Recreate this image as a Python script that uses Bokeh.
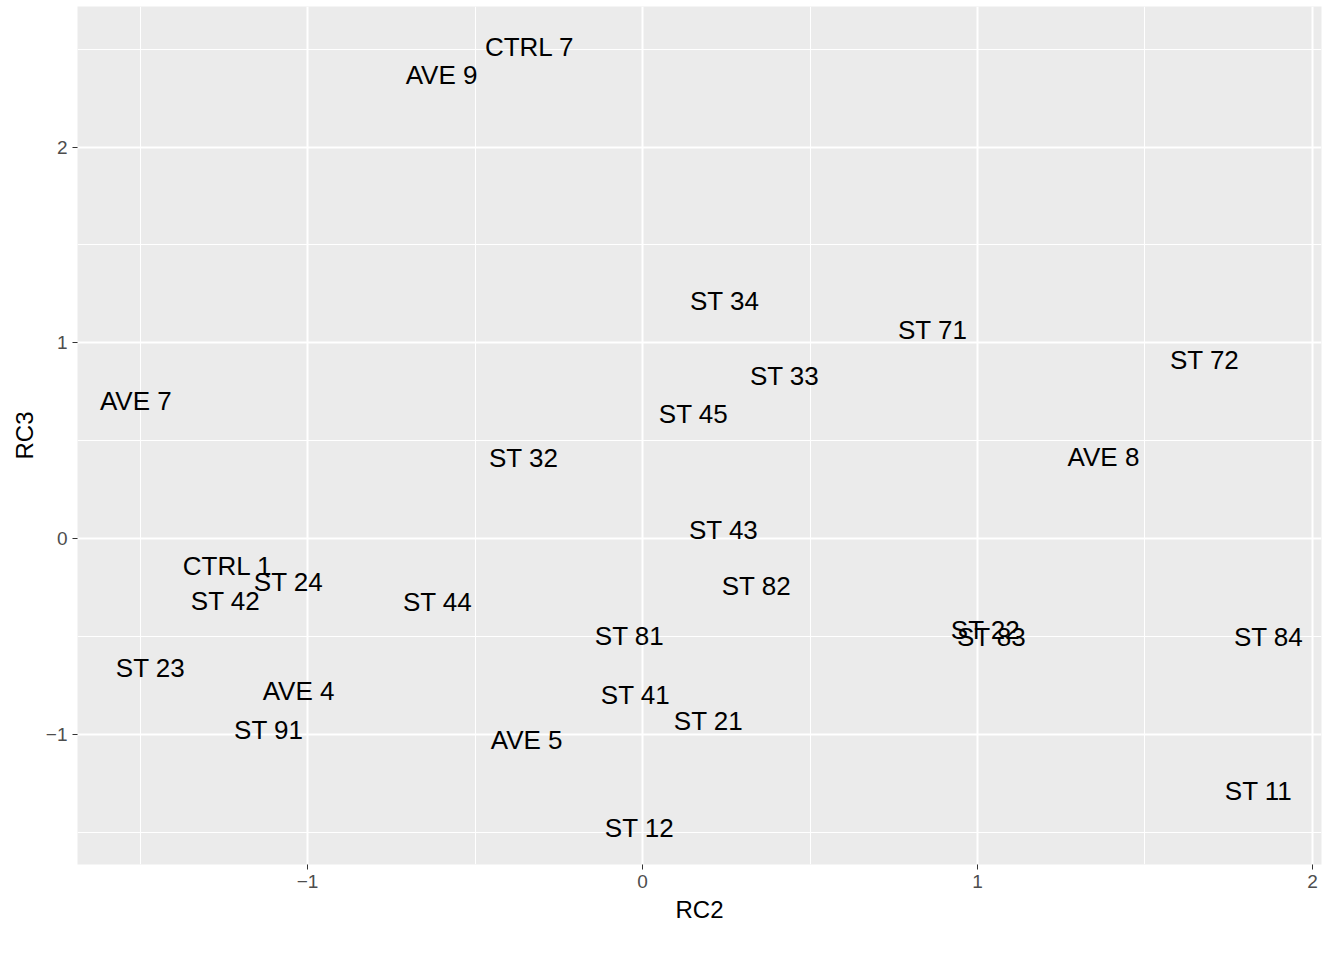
from bokeh.plotting import figure
from bokeh.models import ColumnDataSource, FixedTicker, Range1d
from bokeh.core.properties import value
from bokeh.embed import file_html
from bokeh.resources import INLINE

labels = ["CTRL 7", "AVE 9", "ST 34", "ST 71", "ST 72", "ST 33", "AVE 7", "ST 45",
          "ST 32", "AVE 8", "ST 43", "CTRL 1", "ST 24", "ST 82", "ST 42", "ST 44",
          "ST 81", "ST 22", "ST 83", "ST 84", "ST 23", "AVE 4", "ST 41", "ST 21",
          "ST 91", "AVE 5", "ST 11", "ST 12"]
rc2 = [-0.337, -0.600, 0.245, 0.866, 1.678, 0.424, -1.513, 0.152,
       -0.355, 1.376, 0.242, -1.239, -1.057, 0.340, -1.245, -0.612,
       -0.039, 1.024, 1.042, 1.869, -1.469, -1.027, -0.021, 0.197,
       -1.116, -0.346, 1.839, -0.009]
rc3 = [2.509, 2.366, 1.211, 1.063, 0.910, 0.828, 0.700, 0.634,
       0.409, 0.414, 0.041, -0.143, -0.225, -0.245, -0.322, -0.327,
       -0.501, -0.470, -0.506, -0.506, -0.664, -0.777, -0.802, -0.935,
       -0.981, -1.032, -1.288, -1.477]

src = ColumnDataSource(dict(x=rc2, y=rc3, t=labels))

p = figure(width=1328, height=944, output_backend="svg", toolbar_location=None,
           x_range=Range1d(-1.687, 2.027), y_range=Range1d(-1.666, 2.718),
           min_border_left=77, min_border_right=7, min_border_top=6, min_border_bottom=80)
p.background_fill_color = "#EBEBEB"
p.outline_line_color = None

p.text("x", "y", text="t", source=src, text_align="center", text_baseline="middle",
       text_font=value("Liberation Sans"), text_font_size="20pt" if False else "26px",
       text_color="black")

p.xaxis.ticker = FixedTicker(ticks=[-1, 0, 1, 2], minor_ticks=[-1.5, -0.5, 0.5, 1.5])
p.yaxis.ticker = FixedTicker(ticks=[-1, 0, 1, 2], minor_ticks=[-1.5, -0.5, 0.5, 1.5, 2.5])
for ax in (p.xaxis, p.yaxis):
    ax.axis_line_color = None
    ax.major_tick_line_color = "#333333"
    ax.major_tick_out = 5
    ax.major_tick_in = 0
    ax.minor_tick_line_color = None
    ax.major_label_text_color = "#4D4D4D"
    ax.major_label_text_font = "Liberation Sans"
    ax.major_label_text_font_size = "19px"
    ax.axis_label_text_font = "Liberation Sans"
    ax.axis_label_text_font_size = "24px"
    ax.axis_label_text_font_style = "normal"
    ax.axis_label_text_color = "black"
p.xaxis.axis_label = "RC2"
p.yaxis.axis_label = "RC3"

for g in (p.xgrid, p.ygrid):
    g.grid_line_color = "white"
    g.grid_line_width = 2
    g.minor_grid_line_color = "white"
    g.minor_grid_line_width = 1

open("out.html", "w").write(file_html(p, INLINE))
